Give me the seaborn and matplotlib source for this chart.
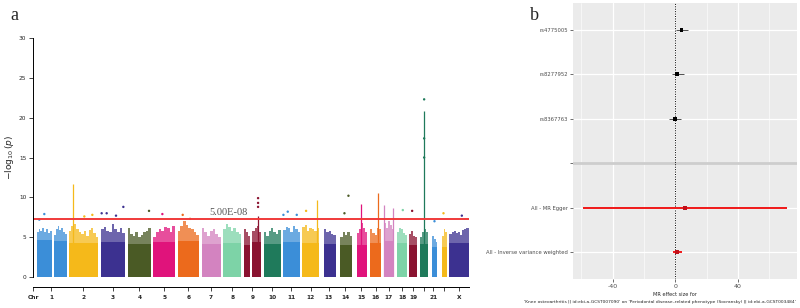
import numpy as np
import pandas as pd
import matplotlib.pyplot as plt
import seaborn as sns

sns.set_style('white')

# ---------------- panel a: Manhattan plot (x in arbitrary genome units) ----------------
palette = ['#3B8ED8', '#F5B91A', '#3C3190', '#4A5A25', '#E0137B',
           '#EC6A1C', '#D383C0', '#7DD3A7', '#8A1330', '#1F7A5B']

# chromosome segments (chr1 and chr9 split by centromere gap)
seg_chrom = [1, 1, 2, 3, 4, 5, 6, 7, 8, 9, 9, 10, 11, 12, 13, 14, 15, 16, 17, 18, 19, 20, 21, 22, 23]
seg_start = [110, 162, 207, 303, 383, 460, 533, 605, 670, 732, 757, 791, 849, 906, 971, 1021,
             1070, 1110, 1152, 1191, 1228, 1260, 1296, 1326, 1348]
seg_end = [155, 200, 295, 375, 453, 525, 597, 662, 723, 750, 783, 842, 900, 957, 1007, 1055,
           1101, 1144, 1182, 1222, 1251, 1284, 1312, 1340, 1405]
seg_solid = [4.6, 4.5, 4.3, 4.4, 4.2, 4.4, 4.5, 4.2, 4.3, 4.0, 4.4, 4.2, 4.4, 4.3, 4.2, 4.0,
             4.0, 4.3, 4.5, 4.3, 4.0, 4.2, 3.8, 3.8, 4.3]
seg_fringe = [
    [5.6, 6.0, 5.8, 6.2, 5.7, 6.0, 5.5, 5.8],
    [5.3, 6.0, 6.4, 5.9, 6.2, 5.6, 5.4],
    [5.8, 6.4, 6.6, 6.0, 5.6, 5.4, 5.8, 5.2, 5.9, 6.1, 5.5, 5.0],
    [6.0, 6.3, 5.8, 5.6, 6.6, 6.0, 5.7, 6.1, 5.5],
    [6.2, 5.4, 5.2, 5.6, 5.0, 5.3, 5.6, 5.8, 6.1],
    [5.0, 5.6, 6.0, 5.8, 6.3, 6.1, 5.7, 6.4],
    [5.8, 6.4, 7.0, 6.5, 6.2, 6.0, 5.6, 5.3],
    [6.2, 5.6, 5.2, 5.8, 6.0, 5.4, 5.0],
    [6.0, 6.6, 6.3, 5.8, 6.1, 5.6, 5.4],
    [6.0, 5.6, 5.2],
    [5.8, 6.2, 6.4, 5.7],
    [5.6, 5.2, 5.8, 6.1, 5.7, 5.4, 5.9],
    [5.9, 6.3, 6.1, 5.7, 6.4, 6.0, 5.6],
    [6.3, 6.5, 5.8, 6.2, 6.0, 5.8, 6.2],
    [6.0, 5.6, 5.8, 5.4, 5.3],
    [5.0, 5.6, 5.3, 5.6, 5.1],
    [5.5, 6.0, 6.8, 6.2, 5.6],
    [6.0, 5.5, 5.3, 6.2, 6.0],
    [6.8, 6.2, 7.0, 6.5, 6.0],
    [5.7, 6.2, 6.0, 5.5, 5.3],
    [5.4, 5.8, 5.2, 5.0],
    [5.0, 5.6, 6.0, 5.6],
    [5.2, 4.8, 4.4],
    [5.2, 6.0, 5.6],
    [5.4, 5.6, 5.8, 5.5, 5.6, 5.3, 5.9, 6.0, 6.2],
]

# narrow association peaks
spike_x = [220, 774, 951, 1083, 1135, 1153, 1178, 1272]
spike_top = [11.7, 7.6, 9.7, 9.2, 10.6, 9.0, 8.6, 20.8]
spike_chrom = [2, 9, 12, 15, 16, 17, 17, 20]

# isolated SNPs above the band
pt_x = [118, 133, 253, 277, 305, 320, 348, 370, 447, 487, 548, 570, 774, 774, 774, 850, 863,
        890, 918, 1033, 1045, 1208, 1236, 1272, 1272, 1272, 1303, 1330, 1385]
pt_y = [7.2, 7.9, 7.6, 7.8, 8.0, 8.0, 7.7, 8.8, 8.3, 7.9, 7.8, 7.3, 9.9, 9.3, 8.8, 7.8, 8.2,
        7.8, 8.3, 8.0, 10.2, 8.4, 8.3, 22.3, 17.4, 15.0, 7.0, 8.0, 7.7]
pt_chrom = [1, 1, 2, 2, 3, 3, 3, 3, 4, 5, 6, 6, 9, 9, 9, 11, 11, 11, 12, 14, 14, 18, 19, 20,
            20, 20, 21, 22, 23]

tick_pos = [100, 153, 250, 338, 418, 493, 565, 632, 697, 757, 816, 873, 932, 986, 1036, 1083,
            1127, 1166, 1207, 1240, 1272, 1300, 1333, 1377]
tick_lab = ['Chr', '1', '2', '3', '4', '5', '6', '7', '8', '9', '10', '11', '12', '13', '14',
            '15', '16', '17', '18', '19', '', '21', '', 'X']

threshold = -np.log10(5e-8)

# ---------------- panel b: MR forest plot ----------------
mr_labels = ['rs4775005', 'rs8277952', 'rs8367763', '', 'All - MR Egger',
             'All - Inverse variance weighted']
mr_b = [4.0, 1.3, -0.4, np.nan, 6.0, 1.0]
mr_lo = [0.3, -2.2, -4.1, np.nan, -58.9, -1.3]
mr_hi = [7.8, 5.5, 3.9, np.nan, 71.3, 4.0]

fig = plt.figure(figsize=(8, 3.08), dpi=100)

# ---- left axes ----
ax = fig.add_axes([33.3 / 800, 31 / 308, (468.5 - 33.3) / 800, 239 / 308])
# spine offset first: set_position resets the tick labels
for side in ['top', 'right']:
    ax.spines[side].set_visible(False)
ax.spines['bottom'].set_position(('outward', 7))
ax.spines['left'].set_bounds(0, 30)
for side in ['left', 'bottom']:
    ax.spines[side].set_linewidth(0.7)
    ax.spines[side].set_color('black')

col = lambda c: palette[(c - 1) % 10]
for c, s, e, solid, fr in zip(seg_chrom, seg_start, seg_end, seg_solid, seg_fringe):
    w = (e - s) / len(fr)
    xs = s + w * np.arange(len(fr))
    ax.bar(xs, fr, width=w, align='edge', color=col(c), alpha=0.75, linewidth=0)
    ax.bar(s, solid, width=e - s, align='edge', color=col(c), linewidth=0)
for x, t, c in zip(spike_x, spike_top, spike_chrom):
    ax.vlines(x, 0, t, color=col(c), linewidth=0.9)
pts = pd.DataFrame({'x': pt_x, 'y': pt_y, 'chrom': pt_chrom})
sns.scatterplot(data=pts, x='x', y='y', hue='chrom', palette={c: col(c) for c in set(pt_chrom)},
                s=3, linewidth=0, legend=False, ax=ax)
ax.axhline(threshold, color='#F03A3A', linewidth=1.4)
ax.text(685, threshold + 0.25, '5.00E-08', family='Liberation Serif', fontsize=7.5,
        color='#555555', ha='center', va='bottom')
ax.set_xlim(100, 1405)
ax.set_ylim(0, 30)
ax.set_xlabel('')
ax.set_ylabel(r'$-\log_{10}(p)$', fontsize=6.5, labelpad=2)
ax.set_yticks([0, 5, 10, 15, 20, 25, 30])
ax.set_yticklabels(['0', '5', '10', '15', '20', '25', '30'], fontsize=4.2)
ax.set_xticks(tick_pos)
ax.set_xticklabels(tick_lab, fontsize=4.2, fontweight='bold')
ax.tick_params(axis='y', length=3, width=0.6, direction='out', left=True, pad=2)
ax.tick_params(axis='x', length=3, width=0.6, direction='out', bottom=True, pad=3)
fig.text(10 / 800, 1 - 16 / 308, 'a', family='Liberation Serif', fontsize=13, va='center')

# ---- right axes ----
bx = fig.add_axes([573 / 800, 29 / 308, 224 / 800, 276 / 308])
bx.set_facecolor('#EBEBEB')
rows = np.arange(len(mr_labels))
for v in [-60, -20, 20, 60]:
    bx.axvline(v, color='white', linewidth=0.4, zorder=0)
for v in [-40, 0, 40]:
    bx.axvline(v, color='white', linewidth=0.9, zorder=0)
for r in rows:
    bx.axhline(r, color='white', linewidth=0.9, zorder=0)
bx.axhline(3, color='#CDCDCD', linewidth=2.0, zorder=1)
bx.axvline(0, color='black', linestyle=(0, (1, 1.5)), linewidth=0.7, zorder=2)
forest = pd.DataFrame({'row': rows, 'b': mr_b, 'lo': mr_lo, 'hi': mr_hi, 'label': mr_labels})
forest['kind'] = ['snp', 'snp', 'snp', 'none', 'all', 'all']
for _, r in forest.dropna().iterrows():
    if r['kind'] == 'snp':
        bx.hlines(r['row'], r['lo'], r['hi'], color='#333333', linewidth=0.6, zorder=3)
    else:
        bx.hlines(r['row'], r['lo'], r['hi'], color='#F01818', linewidth=1.4, zorder=3)
sns.scatterplot(data=forest.dropna(), x='b', y='row', hue='kind',
                palette={'snp': 'black', 'all': '#C0101A'}, s=7, marker='s', linewidth=0,
                legend=False, ax=bx, zorder=4)
bx.set_xlim(-65.4, 77.8)
bx.set_ylim(len(mr_labels) - 1 + 0.6, -0.6)
bx.set_yticks(rows)
bx.set_yticklabels(mr_labels, fontsize=3.8, color='#4D4D4D')
bx.set_xticks([-40, 0, 40])
bx.set_xticklabels(['-40', '0', '40'], fontsize=4.5, color='#4D4D4D')
bx.tick_params(axis='both', length=2, width=0.5, color='#333333', pad=1.5,
               left=True, bottom=True)
bx.set_xlabel('')
bx.set_ylabel('')
for sp in bx.spines.values():
    sp.set_visible(False)
fig.text(675 / 800, 1 - 295 / 308, 'MR effect size for', fontsize=3.6, ha='center', va='center')
fig.text(660 / 800, 1 - 302 / 308,
         "'Knee osteoarthritis || id:ebi-a-GCST007090' on 'Periodontal disease\u2013related "
         "phenotype (Socransky) || id:ebi-a-GCST003484'", fontsize=3.2, ha='center', va='center')
fig.text(530 / 800, 1 - 15 / 308, 'b', family='Liberation Serif', fontsize=13, va='center')

fig.savefig('out.png', dpi=100)
